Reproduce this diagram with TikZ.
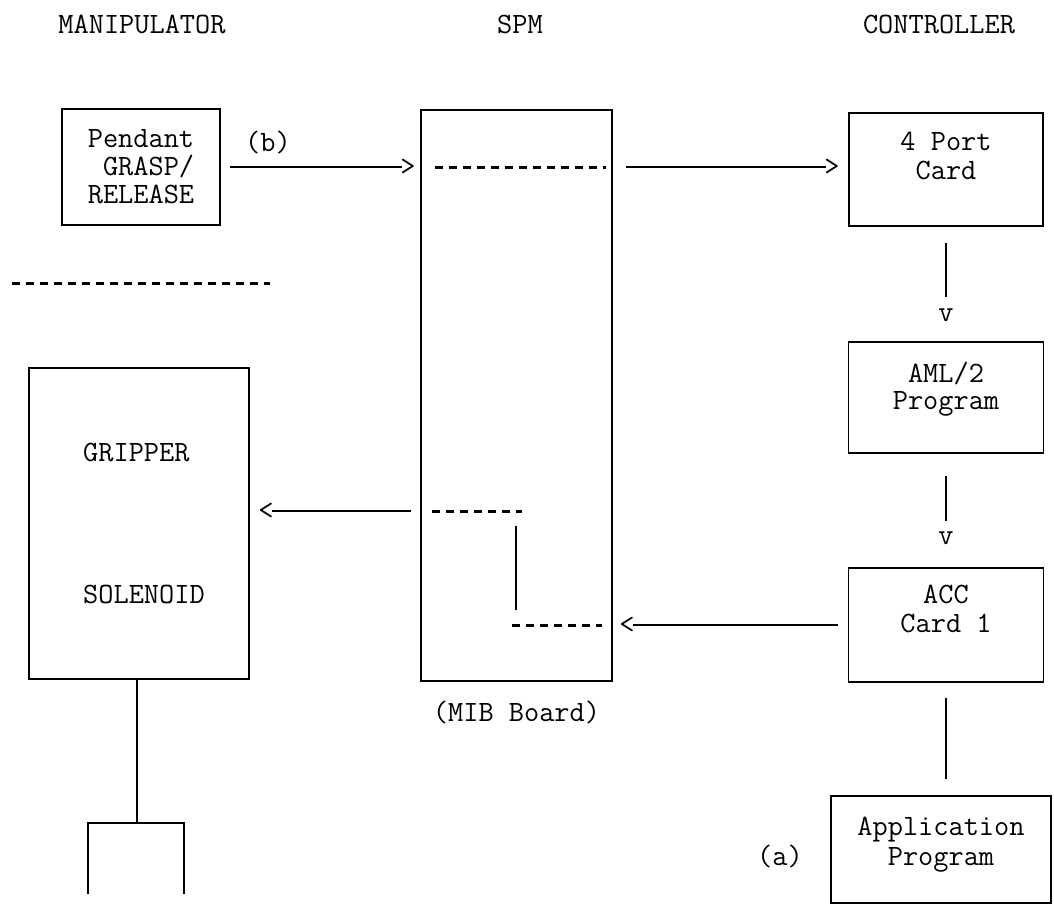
\documentclass[tikz,border=0pt]{standalone}
\usepackage{tikz}
\usetikzlibrary{positioning}
\tikzset{
  txt/.style={font=\ttfamily\fontsize{29.5}{28}\selectfont, inner sep=0pt, align=center},
  unit/.style={draw, line width=1.6pt, inner sep=0pt},
  wire/.style={line width=1.6pt},
  dots/.style={line width=3pt, dash pattern=on 8pt off 6pt}
}

\begin{document}
\begin{tikzpicture}[x=1pt,y=-1pt]
  \useasboundingbox (0,0) rectangle (1054,907);

  \node[txt] (manip) at (142,24) {MANIPULATOR};
  \node[txt] (spmtitle) at (520,24) {SPM};
  \node[txt] (ctrl) at (939,24) {CONTROLLER};

  \node[unit, txt, align=right, minimum width=158pt, minimum height=116pt] (pendant) at (141,167) {Pendant\\GRASP/\\RELEASE};
  \node[txt] (b) at (268,142) {(b)};
  \draw[dots] (12,283) -- (270,283);

  \node[unit, minimum width=220pt, minimum height=311pt] (gripper) at (139,523.5) {};
  \node[txt, anchor=west] (grip) at (83,452) {GRIPPER};
  \node[txt, anchor=west] (sol) at (83,594) {SOLENOID};
  \coordinate (jaw) at (137,823);
  \draw[wire] (gripper.south -| jaw) -- (jaw);
  \draw[wire] (88,894) -- (88,823) -- (184,823) -- (184,894);

  \node[unit, minimum width=191pt, minimum height=571pt] (spm) at (516.5,395.5) {};
  \node[txt, below=19pt of spm] (mib) {(MIB Board)};

  \node[unit, minimum width=194pt, minimum height=113pt] (port) at (946,169.5) {};
  \node[txt, below=20pt of port.north, font=\ttfamily\fontsize{29.5}{29}\selectfont] {4 Port\\Card};
  \node[unit, minimum width=195pt, minimum height=111pt] (aml) at (946,397.5) {};
  \node[txt, below=21pt of aml.north, font=\ttfamily\fontsize{29.5}{27}\selectfont] {AML/2\\Program};
  \node[unit, minimum width=195pt, minimum height=114pt] (acc) at (946,625) {};
  \node[txt, below=18pt of acc.north, font=\ttfamily\fontsize{29.5}{29}\selectfont] {ACC\\Card 1};
  \node[unit, minimum width=220pt, minimum height=107pt] (app) at (941,849.5) {};
  \node[txt, below=22pt of app.north, font=\ttfamily\fontsize{29.5}{30}\selectfont] {Application\\Program};
  \node[txt] (a) at (780,856) {(a)};

  \node[txt] (tb) at (408,167) {>};
  \node[txt] (tp) at (832,167) {>};
  \node[txt] (v1) at (946,315) {v};
  \node[txt] (v2) at (946,538) {v};
  \node[txt] (tl) at (266,511) {<};
  \node[txt] (tr) at (627,625) {<};

  \draw[wire, shorten <=9pt, shorten >=-2pt] (pendant) -- (tb);
  \draw[wire, shorten <=13pt, shorten >=-2pt] (spm.east |- tp) -- (tp);
  \draw[wire, shorten <=16pt, shorten >=11pt] (port) -- (v1);
  \draw[wire, shorten <=22pt, shorten >=10pt] (aml) -- (v2);
  \draw[wire, shorten <=15pt, shorten >=16pt] (acc.south) -- (acc.south |- app.north);
  \draw[wire, shorten <=-2pt, shorten >=9pt] (tl) -- (spm.west |- tl);
  \draw[wire, shorten <=-2pt, shorten >=10pt] (tr) -- (acc.west |- tr);

  \draw[dots] (435,167) -- (606,167);
  \draw[dots] (432,511) -- (522,511);
  \draw[wire] (516,526) -- (516,610);
  \draw[dots] (512,625) -- (602,625);
\end{tikzpicture}
\end{document}
